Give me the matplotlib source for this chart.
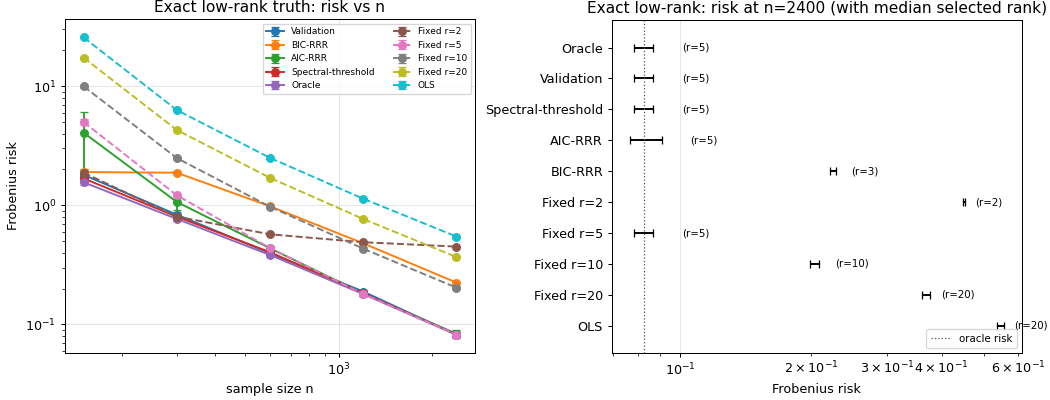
import numpy as np
import matplotlib
matplotlib.use("Agg")
import matplotlib.pyplot as plt

# ---------------- data ----------------
n_values = [150, 300, 600, 1200, 2400]

methods = ["Validation", "BIC-RRR", "AIC-RRR", "Spectral-threshold", "Oracle",
           "Fixed r=2", "Fixed r=5", "Fixed r=10", "Fixed r=20", "OLS"]
colors = ["#1f77b4", "#ff7f0e", "#2ca02c", "#d62728", "#9467bd",
          "#8c564b", "#e377c2", "#7f7f7f", "#bcbd22", "#17becf"]
dashed = [False, False, False, False, False, True, True, True, True, True]

risk_validation = [1.80, 0.834, 0.396, 0.189, 0.0822]
risk_bic = [1.90, 1.876, 0.981, 0.480, 0.2248]
risk_aic = [4.06, 1.066, 0.436, 0.182, 0.0837]
risk_spectral = [1.68, 0.803, 0.404, 0.183, 0.0822]
risk_oracle = [1.56, 0.768, 0.383, 0.180, 0.0822]
risk_fixed2 = [1.876, 0.803, 0.571, 0.490, 0.4503]
risk_fixed5 = [4.99, 1.213, 0.438, 0.1805, 0.0822]
risk_fixed10 = [9.94, 2.49, 0.973, 0.433, 0.2038]
risk_fixed20 = [17.3, 4.28, 1.70, 0.768, 0.368]
risk_ols = [25.6, 6.29, 2.50, 1.136, 0.547]

ci_validation = [0.10, 0.05, 0.012, 0.006, 0.0041]
ci_bic = [0.08, 0.06, 0.02, 0.008, 0.0040]
ci_aic = [2.05, 0.15, 0.020, 0.008, 0.0070]
ci_spectral = [0.08, 0.03, 0.012, 0.006, 0.0041]
ci_oracle = [0.07, 0.03, 0.012, 0.006, 0.0041]
ci_fixed2 = [0.05, 0.02, 0.008, 0.004, 0.0020]
ci_fixed5 = [0.30, 0.04, 0.012, 0.006, 0.0041]
ci_fixed10 = [0.30, 0.06, 0.020, 0.010, 0.0052]
ci_fixed20 = [0.40, 0.10, 0.030, 0.014, 0.0074]
ci_ols = [0.50, 0.12, 0.040, 0.020, 0.0107]

# right panel: risk at n=2400 with median selected rank
right_methods = ["Oracle", "Validation", "Spectral-threshold", "AIC-RRR", "BIC-RRR",
                 "Fixed r=2", "Fixed r=5", "Fixed r=10", "Fixed r=20", "OLS"]
right_mean = [0.0822, 0.0822, 0.0822, 0.0837, 0.2248, 0.4503, 0.0822, 0.2038, 0.368, 0.547]
right_ci = [0.0041, 0.0041, 0.0041, 0.0070, 0.0040, 0.0020, 0.0041, 0.0052, 0.0074, 0.0107]
right_rank = [5, 5, 5, 5, 3, 2, 5, 10, 20, 20]
oracle_risk = 0.0823

# ---------------- plot ----------------
DPI = 92
fig = plt.figure(figsize=(1050 / DPI, 400 / DPI), dpi=DPI)
ax1 = fig.add_axes([65 / 1050, 1 - 352.7 / 400, 410 / 1050, 333.5 / 400])
ax2 = fig.add_axes([612 / 1050, 1 - 352.7 / 400, 409.7 / 1050, 333.0 / 400])

risks = [risk_validation, risk_bic, risk_aic, risk_spectral, risk_oracle,
         risk_fixed2, risk_fixed5, risk_fixed10, risk_fixed20, risk_ols]
cis = [ci_validation, ci_bic, ci_aic, ci_spectral, ci_oracle,
       ci_fixed2, ci_fixed5, ci_fixed10, ci_fixed20, ci_ols]

for name, col, dsh, r, c in zip(methods, colors, dashed, risks, cis):
    ax1.errorbar(n_values, r, yerr=c, color=col, marker="o", markersize=6,
                 linestyle="--" if dsh else "-", linewidth=1.5, capsize=3,
                 label=name)

ax1.set_xscale("log")
ax1.set_yscale("log")
ax1.set_ylim(0.058, 36.4)
ax1.grid(True, which="major", alpha=0.3)
ax1.set_xlabel("sample size n")
ax1.set_ylabel("Frobenius risk")
ax1.set_title("Exact low-rank truth: risk vs n")
ax1.legend(ncol=2, fontsize=7, loc="upper right")

ypos = np.arange(len(right_methods))
ax2.errorbar(right_mean, ypos, xerr=right_ci, fmt="none", ecolor="black",
             elinewidth=1.5, capsize=3)
ax2.axvline(oracle_risk, color="0.35", linestyle=":", linewidth=1.0, label="oracle risk")
for m, c, y, rk in zip(right_mean, right_ci, ypos, right_rank):
    ax2.text((m + c) * 1.03 + 0.012, y, f"(r={rk})", fontsize=8, va="center")
ax2.set_xscale("log")
ax2.set_xlim(0.0696, 0.612)
ax2.set_yticks(ypos)
ax2.set_yticklabels(right_methods)
ax2.set_ylim(9.87, -0.9)
ax2.grid(True, axis="x", which="major", alpha=0.3)
ax2.set_xlabel("Frobenius risk")
ax2.set_title("Exact low-rank: risk at n=2400 (with median selected rank)")
ax2.legend(fontsize=8, loc="lower right")

fig.savefig("out.png", dpi=DPI)
